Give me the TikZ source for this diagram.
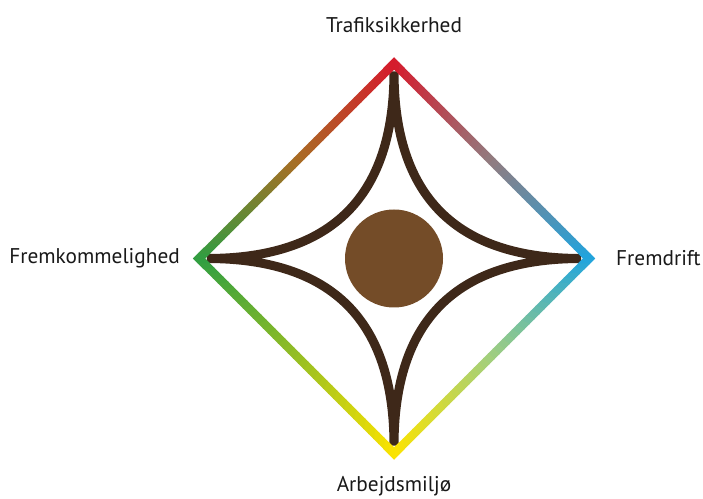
\documentclass[tikz,border=0pt]{standalone}
\usepackage{fontspec}
\setmainfont{PT Sans}
\usetikzlibrary{calc,positioning}
\definecolor{safetyred}{RGB}{214,26,44}
\definecolor{driveblue}{RGB}{32,164,222}
\definecolor{workyellow}{RGB}{252,228,0}
\definecolor{flowgreen}{RGB}{48,158,66}
\definecolor{midgray}{RGB}{145,124,128}
\definecolor{midorange}{RGB}{168,110,36}
\definecolor{midlime}{RGB}{150,190,36}
\definecolor{midmint}{RGB}{160,206,128}
\definecolor{stardark}{RGB}{62,40,25}
\definecolor{hubbrown}{RGB}{116,76,40}
\definecolor{labelgray}{RGB}{25,25,25}

\begin{document}
\begin{tikzpicture}[
        x=1pt, y=1pt,
        corner/.style={font=\fontsize{21.3}{25}\selectfont, text=labelgray, inner sep=0pt},
        star/.style={draw=stardark, line width=9pt},
        hub/.style={circle, fill=hubbrown, minimum size=98pt, inner sep=0pt}
    ]
        \useasboundingbox (0,0) rectangle (703,498);

        % Centre
        \coordinate (c) at (394,239.5);

        % Diamond corners
        \coordinate (vtop) at ($(c)+(0,195)$);
        \coordinate (vright) at ($(c)+(195,0)$);
        \coordinate (vbottom) at ($(c)+(0,-195)$);
        \coordinate (vleft) at ($(c)+(-195,0)$);

        % Outer and inner edge of the band
        \coordinate (otop) at ($(c)+(0,201)$);
        \coordinate (oright) at ($(c)+(201,0)$);
        \coordinate (obottom) at ($(c)+(0,-201)$);
        \coordinate (oleft) at ($(c)+(-201,0)$);
        \coordinate (itop) at ($(c)+(0,189)$);
        \coordinate (iright) at ($(c)+(189,0)$);
        \coordinate (ibottom) at ($(c)+(0,-189)$);
        \coordinate (ileft) at ($(c)+(-189,0)$);

        % Star tips
        \coordinate (stop) at ($(c)+(0,187)$);
        \coordinate (sright) at ($(c)+(187,0)$);
        \coordinate (sbottom) at ($(c)+(0,-187)$);
        \coordinate (sleft) at ($(c)+(-187,0)$);

        % Star
        \draw[star] (stop) .. controls ($(c)+(0,62)$) and ($(c)+(62,0)$) .. (sright)
            .. controls ($(c)+(62,0)$) and ($(c)+(0,-62)$) .. (sbottom)
            .. controls ($(c)+(0,-62)$) and ($(c)+(-62,0)$) .. (sleft)
            .. controls ($(c)+(-62,0)$) and ($(c)+(0,62)$) .. (stop);

        % Hub
        \node[hub] (hub) at (c) {};

        % Corner patches
        \draw[safetyred, line width=8.5pt] ($(vtop)!0.04!(vleft)$) -- (vtop) -- ($(vtop)!0.04!(vright)$);
        \draw[driveblue, line width=8.5pt] ($(vright)!0.04!(vtop)$) -- (vright) -- ($(vright)!0.04!(vbottom)$);
        \draw[workyellow, line width=8.5pt] ($(vbottom)!0.04!(vright)$) -- (vbottom) -- ($(vbottom)!0.04!(vleft)$);
        \draw[flowgreen, line width=8.5pt] ($(vleft)!0.04!(vbottom)$) -- (vleft) -- ($(vleft)!0.04!(vtop)$);

        % Colour band
        \foreach \from/\to/\cfrom/\cmid/\cto in {top/right/safetyred/midgray/driveblue, right/bottom/driveblue/midmint/workyellow, bottom/left/workyellow/midlime/flowgreen, left/top/flowgreen/midorange/safetyred}{
            \foreach \i in {0,...,39}{
                \pgfmathsetmacro\ta{\i/40}
                \pgfmathsetmacro\tb{min((\i+1.15)/40,1)}
                \ifnum\i<20
                    \pgfmathtruncatemacro\mix{round((\i+0.5)*5)}
                    \colorlet{bandcol}{\cmid!\mix!\cfrom}
                \else
                    \pgfmathtruncatemacro\mix{round((\i-19.5)*5)}
                    \colorlet{bandcol}{\cto!\mix!\cmid}
                \fi
                \fill[bandcol] ($(o\from)!\ta!(o\to)$) -- ($(o\from)!\tb!(o\to)$)
                    -- ($(i\from)!\tb!(i\to)$) -- ($(i\from)!\ta!(i\to)$) -- cycle;
            }
        }

        % Labels
        \node[corner, above=30.5 of vtop] (safety) {Trafiksikkerhed};
        \node[corner, right=27 of vright] (progress) {Fremdrift};
        \node[corner, left=19 of vleft] (passability) {Fremkommelighed};
        \node[corner, below=22.5 of vbottom] (workenv) {Arbejdsmiljø};

    \end{tikzpicture}
\end{document}
